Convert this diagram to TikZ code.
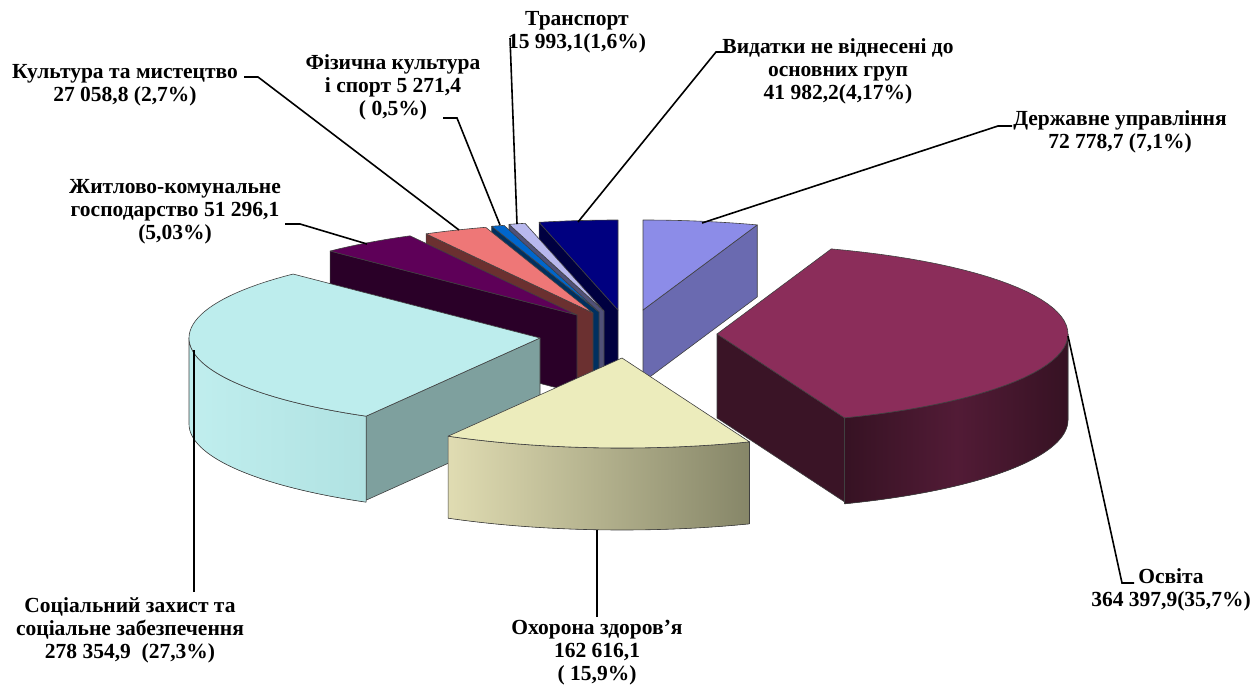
\documentclass[tikz,border=0pt]{standalone}
\usepackage{fontspec}
\setmainfont{Liberation Serif}
\definecolor{derzhTop}{RGB}{140,140,232}
\definecolor{derzhSide}{RGB}{106,106,176}
\definecolor{osvTop}{RGB}{139,45,90}
\definecolor{osvSide}{RGB}{58,20,38}
\definecolor{osvCurvL}{RGB}{82,27,54}
\definecolor{osvCurvR}{RGB}{54,18,35}
\definecolor{ohorTop}{RGB}{236,236,188}
\definecolor{ohorL}{RGB}{224,220,178}
\definecolor{ohorR}{RGB}{134,134,104}
\definecolor{socTop}{RGB}{189,237,237}
\definecolor{socRad}{RGB}{126,160,158}
\definecolor{socL}{RGB}{192,238,238}
\definecolor{socR}{RGB}{176,226,226}
\definecolor{zhytTop}{RGB}{94,0,88}
\definecolor{zhytSide}{RGB}{42,0,40}
\definecolor{kultTop}{RGB}{238,119,119}
\definecolor{kultSide}{RGB}{107,48,48}
\definecolor{fizTop}{RGB}{0,102,204}
\definecolor{fizSide}{RGB}{0,48,96}
\definecolor{transTop}{RGB}{184,184,238}
\definecolor{transSide}{RGB}{80,80,120}
\definecolor{vydTop}{RGB}{0,0,128}
\definecolor{vydSide}{RGB}{0,0,64}
% slice helpers: centre (cx,cy), angles clockwise from top, ellipse 351 x 90
\newcommand\pieTop[5]{%
  \filldraw[edgeline,fill=#5] (#1,#2) -- plot[domain=#3:#4,samples=50] ({#1+351*sin(\x)},{#2-90*cos(\x)}) -- cycle;}
\newcommand\pieRadial[5]{%
  \filldraw[edgeline,fill=#5] (#1,#2) -- ({#1+351*sin(#3)},{#2-90*cos(#3)}) -- ({#1+351*sin(#3)},{#2-90*cos(#3)+#4}) -- (#1,{#2+#4}) -- cycle;}
\newcommand\pieCurved[6]{%
  \filldraw[edgeline,#6] plot[domain=#3:#4,samples=50] ({#1+351*sin(\x)},{#2-90*cos(\x)}) -- plot[domain=#4:#3,samples=50] ({#1+351*sin(\x)},{#2-90*cos(\x)+#5}) -- cycle;}
\begin{document}
\begin{tikzpicture}[x=1pt,y=-1pt,
  edgeline/.style={draw=black!75,line width=0.6pt,line join=round},
  leader/.style={draw=black,line width=1.6pt},
  lbl/.style={align=center,inner sep=0pt,font=\bfseries\fontsize{21.5}{23}\selectfont}]
\useasboundingbox (0,0) rectangle (1253,685);
% ---- back slices ----
% Vydatky
\pieRadial{618}{310}{347}{80}{vydSide}
\pieTop{618}{310}{347}{360}{vydTop}
% Transport
\pieRadial{604}{311}{344.3}{80}{transSide}
\pieTop{604}{311}{344.3}{347}{transTop}
% Fizychna
\pieRadial{599}{312}{342.2}{80}{fizSide}
\pieTop{599}{312}{342.2}{344.3}{fizTop}
% Kultura
\pieRadial{593}{313}{331.6}{80}{kultSide}
\pieTop{593}{313}{331.6}{342.2}{kultTop}
% Zhytlovo
\pieRadial{577}{315}{315.3}{78}{zhytSide}
\pieTop{577}{315}{315.3}{331.6}{zhytTop}
% Derzhavne
\pieRadial{643}{310}{19}{72}{derzhSide}
\pieTop{643}{310}{0}{19}{derzhTop}
% Social
\pieRadial{540}{338}{209.7}{84}{socRad}
\pieCurved{540}{338}{209.7}{270}{86}{left color=socL,right color=socR}
\pieTop{540}{338}{209.7}{315.3}{socTop}
% Osvita
\pieRadial{717}{334}{158.7}{84}{osvSide}
\pieCurved{717}{334}{90}{158.7}{86}{left color=osvCurvR,right color=osvCurvR,middle color=osvCurvL}
\pieTop{717}{334}{19}{158.7}{osvTop}
% Ohorona
\pieCurved{622}{358}{158.7}{209.7}{82}{left color=ohorL,right color=ohorR}
\pieTop{622}{358}{158.7}{209.7}{ohorTop}
% ---- labels ----
\node[lbl] (ltrans) at (577,32) {Транспорт\\15 993,1(1,6\%)};
\node[lbl] (lvyd) at (838,71) {Видатки не віднесені до\\основних груп\\41 982,2(4,17\%)};
\node[lbl] (lderzh) at (1120,132) {Державне управління\\72 778,7 (7,1\%)};
\node[lbl] (lkult) at (125,85) {Культура та мистецтво\\27 058,8 (2,7\%)};
\node[lbl] (lfiz) at (393,87) {Фізична культура\\і спорт 5 271,4\\( 0,5\%)};
\node[lbl] (lzhyt) at (175,212) {Житлово-комунальне\\господарство 51 296,1\\(5,03\%)};
\node[lbl] (lsoc) at (130,630) {Соціальний захист та\\соціальне забезпечення\\278 354,9~~(27,3\%)};
\node[lbl] (lohor) at (597,653) {Охорона здоров’я\\162 616,1\\( 15,9\%)};
\node[lbl] (losv) at (1171,590) {Освіта\\364 397,9(35,7\%)};
% ---- leader lines ----
\coordinate (kultA) at (244,77); \coordinate (kultB) at (258,77); \coordinate (kultC) at (459,230);
\coordinate (fizA) at (443,118); \coordinate (fizB) at (457,118); \coordinate (fizC) at (500,225);
\coordinate (zhytA) at (285,224); \coordinate (zhytB) at (300,224); \coordinate (zhytC) at (367,244);
\coordinate (transA) at (510,38); \coordinate (transC) at (517,224);
\coordinate (vydA) at (730,52); \coordinate (vydB) at (716,52); \coordinate (vydC) at (578,222);
\coordinate (derzhA) at (1012,126); \coordinate (derzhB) at (998,126); \coordinate (derzhC) at (702,223);
\coordinate (osvA) at (1134,583); \coordinate (osvB) at (1122,583); \coordinate (osvC) at (1068,336);
\coordinate (socA) at (194,592); \coordinate (socC) at (194,350);
\coordinate (ohorA) at (597,617); \coordinate (ohorC) at (597,530);
\draw[leader] (kultA) -- (kultB) -- (kultC);
\draw[leader] (fizA) -- (fizB) -- (fizC);
\draw[leader] (zhytA) -- (zhytB) -- (zhytC);
\draw[leader] (transA) -- (transC);
\draw[leader] (vydA) -- (vydB) -- (vydC);
\draw[leader] (derzhA) -- (derzhB) -- (derzhC);
\draw[leader] (osvA) -- (osvB) -- (osvC);
\draw[leader] (socA) -- (socC);
\draw[leader] (ohorA) -- (ohorC);
\end{tikzpicture}
\end{document}
